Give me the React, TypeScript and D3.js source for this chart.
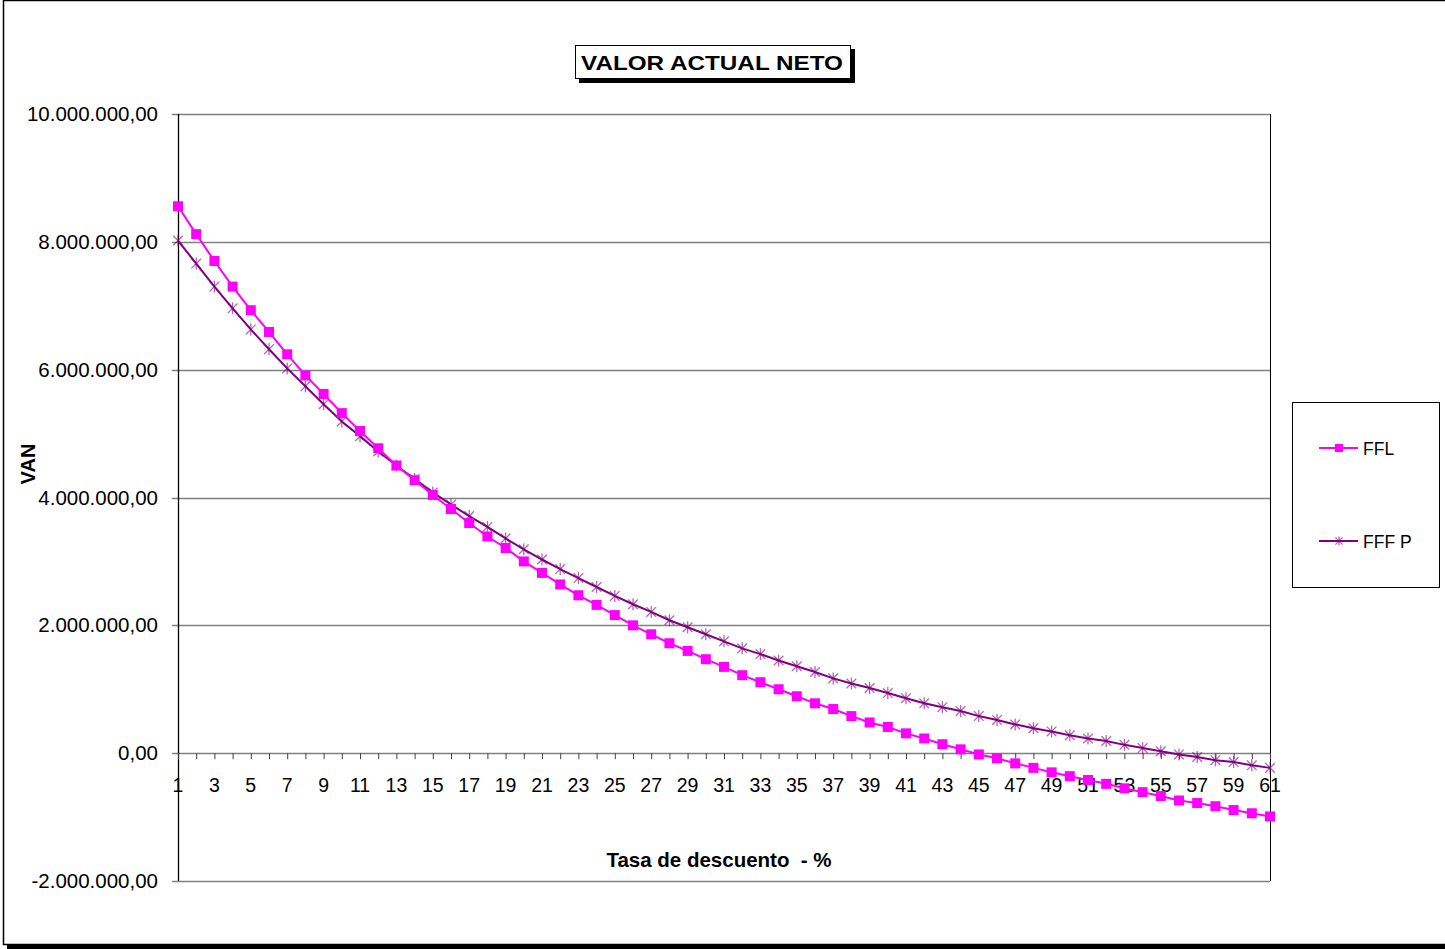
import React from "react";
import * as d3 from "d3";

const rates: number[] = Array.from({ length: 61 }, (_, i) => i + 1);

const ffl: number[] = [
  8.556, 8.12, 7.70, 7.30, 6.93, 6.59, 6.24, 5.91, 5.62, 5.32,
  5.04, 4.77, 4.50, 4.27, 4.04, 3.82, 3.60, 3.39, 3.21, 3.00,
  2.82, 2.64, 2.47, 2.32, 2.16, 2.00, 1.86, 1.72, 1.60, 1.47,
  1.35, 1.22, 1.11, 1.00, 0.89, 0.78, 0.69, 0.58, 0.48, 0.41,
  0.31, 0.23, 0.14, 0.06, -0.02, -0.08, -0.16, -0.23, -0.30, -0.36,
  -0.42, -0.48, -0.55, -0.61, -0.67, -0.74, -0.78, -0.83, -0.89, -0.94,
  -0.99,
].map((v) => v * 1e6);

const fffp: number[] = [
  8.02, 7.66, 7.30, 6.96, 6.63, 6.32, 6.02, 5.74, 5.46, 5.19,
  4.96, 4.72, 4.50, 4.29, 4.08, 3.89, 3.71, 3.54, 3.36, 3.19,
  3.03, 2.88, 2.74, 2.60, 2.46, 2.33, 2.21, 2.08, 1.97, 1.86,
  1.75, 1.64, 1.55, 1.45, 1.36, 1.27, 1.17, 1.09, 1.02, 0.94,
  0.86, 0.78, 0.72, 0.66, 0.58, 0.52, 0.45, 0.39, 0.34, 0.28,
  0.23, 0.19, 0.13, 0.08, 0.03, -0.02, -0.06, -0.11, -0.14, -0.19,
  -0.23,
].map((v) => v * 1e6);

const yTicks: number[] = [-2e6, 0, 2e6, 4e6, 6e6, 8e6, 10e6];
const yTickLabels: string[] = [
  "-2.000.000,00",
  "0,00",
  "2.000.000,00",
  "4.000.000,00",
  "6.000.000,00",
  "8.000.000,00",
  "10.000.000,00",
];

const seriesNames: string[] = ["FFL", "FFF P"];

const FONT = "'Liberation Sans', Arial, Helvetica, sans-serif";
const MAGENTA = "#FF00FF";
const PURPLE = "#800080";

function Star({ cx, cy, r }: { cx: number; cy: number; r: number }) {
  const d = r * 0.8;
  return (
    <g stroke={PURPLE} strokeWidth={1.3} strokeOpacity={0.6}>
      <line x1={cx - d} y1={cy - d} x2={cx + d} y2={cy + d} />
      <line x1={cx - d} y1={cy + d} x2={cx + d} y2={cy - d} />
      <line x1={cx} y1={cy - r} x2={cx} y2={cy + r} />
    </g>
  );
}

export default function App() {
  const W = 1445;
  const H = 949;
  const x0 = 178;
  const x1 = 1270;
  const yTop = 114;
  const yBot = 881;

  const x = d3.scalePoint<number>().domain(rates).range([x0, x1]);
  const y = d3.scaleLinear().domain([-2e6, 10e6]).range([yBot, yTop]);

  const line = d3
    .line<number>()
    .x((_, i) => x(rates[i]) as number)
    .y((d) => y(d));

  const zeroY = y(0);

  return (
    <svg
      width={W}
      height={H}
      style={{ position: "absolute", left: 0, top: 0, background: "#fff" }}
      fontFamily={FONT}
    >
      {/* outer chart border with shadow */}
      <rect x={7} y={945} width={W} height={5} fill="#000" />
      <rect x={3.5} y={0.5} width={W} height={944} fill="#fff" stroke="#000" strokeWidth={1.5} />

      {/* title */}
      <rect x={579} y={49} width={276} height={34} fill="#000" />
      <rect x={575.5} y={45.5} width={275} height={33} fill="#fff" stroke="#000" strokeWidth={1} />
      <text
        x={712}
        y={69.5}
        textAnchor="middle"
        fontSize={21}
        fontWeight="bold"
        textLength={262}
        lengthAdjust="spacingAndGlyphs"
        fill="#000"
      >
        VALOR ACTUAL NETO
      </text>

      {/* gridlines */}
      {yTicks.map((t) => (
        <line key={"g" + t} x1={x0 - 6} x2={x1} y1={Math.round(y(t)) + 0.5} y2={Math.round(y(t)) + 0.5} stroke="#808080" strokeWidth={1.3} />
      ))}
      {/* plot right border */}
      <line x1={x1 + 0.5} x2={x1 + 0.5} y1={yTop} y2={yBot} stroke="#000" strokeWidth={1} />
      {/* y axis */}
      <line x1={x0 + 0.5} x2={x0 + 0.5} y1={yTop} y2={yBot} stroke="#000" strokeWidth={1.3} />

      {/* y tick labels */}
      {yTicks.map((t, i) => (
        <text key={"yl" + t} x={158} y={y(t) + 7} textAnchor="end" fontSize={20.5} fill="#000">
          {yTickLabels[i]}
        </text>
      ))}

      {/* x axis ticks */}
      {rates.map((r) => (
        <line
          key={"xt" + r}
          x1={(x(r) as number) + 0.5}
          x2={(x(r) as number) + 0.5}
          y1={zeroY}
          y2={zeroY + 6}
          stroke="#404040"
          strokeWidth={1}
        />
      ))}
      {rates
        .filter((r) => r % 2 === 1)
        .map((r) => (
          <text key={"xl" + r} x={x(r) as number} y={792} textAnchor="middle" fontSize={19.5} fill="#000">
            {r}
          </text>
        ))}

      {/* axis titles */}
      <text x={719} y={867} textAnchor="middle" fontSize={20.5} fontWeight="bold" fill="#000" style={{ whiteSpace: "pre" }}>
        {"Tasa de descuento  - %"}
      </text>
      <text
        transform="translate(35,464) rotate(-90)"
        textAnchor="middle"
        fontSize={20}
        fontWeight="bold"
        fill="#000"
      >
        VAN
      </text>

      {/* series FFF P */}
      <path d={line(fffp) || ""} fill="none" stroke={PURPLE} strokeWidth={2} />
      {fffp.map((v, i) => (
        <Star key={"s" + i} cx={x(rates[i]) as number} cy={y(v)} r={6} />
      ))}

      {/* series FFL */}
      <path d={line(ffl) || ""} fill="none" stroke={MAGENTA} strokeWidth={2} />
      {ffl.map((v, i) => (
        <rect
          key={"q" + i}
          x={(x(rates[i]) as number) - 5}
          y={y(v) - 5}
          width={10}
          height={10}
          fill={MAGENTA}
        />
      ))}

      {/* legend */}
      <rect x={1292.5} y={402.5} width={147} height={185} fill="#fff" stroke="#000" strokeWidth={1} />
      <line x1={1319} x2={1358} y1={448} y2={448} stroke={MAGENTA} strokeWidth={2} />
      <rect x={1335} y={444} width={8} height={8} fill={MAGENTA} />
      <text x={1363} y={454.5} fontSize={17.5} fill="#000">
        {seriesNames[0]}
      </text>
      <line x1={1319} x2={1358} y1={541} y2={541} stroke={PURPLE} strokeWidth={2} />
      <Star cx={1339} cy={541} r={4.5} />
      <text x={1363} y={547.5} fontSize={17.5} fill="#000">
        {seriesNames[1]}
      </text>
    </svg>
  );
}
